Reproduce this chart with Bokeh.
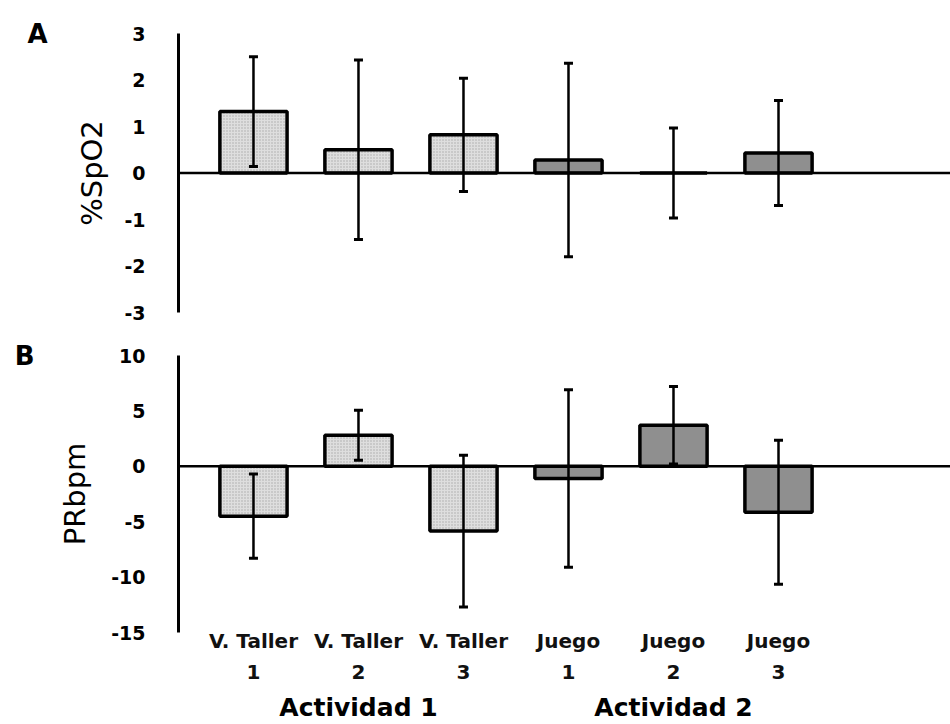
from bokeh.plotting import figure
from bokeh.models import Range1d, FixedTicker, Span, Whisker, TeeHead, ColumnDataSource, LinearAxis
from bokeh.layouts import column
from bokeh.embed import file_html
from bokeh.resources import INLINE

# ---- data ----
categories = ["V. Taller 1", "V. Taller 2", "V. Taller 3", "Juego 1", "Juego 2", "Juego 3"]
tick_labels = ["V. Taller\n1", "V. Taller\n2", "V. Taller\n3", "Juego\n1", "Juego\n2", "Juego\n3"]
activity = ["Actividad 1", "Actividad 1", "Actividad 1", "Actividad 2", "Actividad 2", "Actividad 2"]
groups = ["Actividad 1", "Actividad 2"]
group_centers = [1, 4]

spo2_mean = [1.32, 0.50, 0.82, 0.28, 0.0, 0.43]
spo2_sd = [1.18, 1.93, 1.22, 2.08, 0.97, 1.13]
pr_mean = [-4.5, 2.8, -5.85, -1.1, 3.7, -4.15]
pr_sd = [3.8, 2.25, 6.85, 8.0, 3.5, 6.5]

spo2_ticks = [-3, -2, -1, 0, 1, 2, 3]
spo2_tick_labels = ["-3", "-2", "-1", "0", "1", "2", "3"]
pr_ticks = [-15, -10, -5, 0, 5, 10]
pr_tick_labels = ["-15", "-10", "-5", "0", "5", "10"]

fill_map = {"Actividad 1": "#dedede", "Actividad 2": "#8f8f8f"}
hatch_map = {"Actividad 1": "dot", "Actividad 2": " "}

FONT = "DejaVu Sans"
idx = list(range(len(categories)))


def plain_axis(ax):
    ax.axis_line_color = None
    ax.major_tick_line_color = None
    ax.minor_tick_line_color = None
    ax.major_label_text_font = FONT
    ax.major_label_text_font_style = "bold"
    ax.major_label_text_color = "black"


def panel(means, sds, ticks, tlabels, height, btop, bbot, ylabel, lab_standoff,
          letter, letter_standoff, show_x):
    p = figure(width=950, height=height,
               x_range=Range1d(-0.714, 6.638),
               y_range=Range1d(min(ticks), max(ticks)),
               output_backend="svg", toolbar_location=None,
               min_border_left=178, min_border_right=0,
               min_border_top=btop, min_border_bottom=bbot,
               background_fill_color="white", border_fill_color="white",
               outline_line_color=None)
    p.grid.visible = False
    src = ColumnDataSource(dict(
        x=idx, top=means,
        upper=[m + s for m, s in zip(means, sds)],
        lower=[m - s for m, s in zip(means, sds)],
        fill=[fill_map[a] for a in activity],
        hatch=[hatch_map[a] for a in activity],
    ))
    p.vbar(x="x", top="top", bottom=0, width=0.64, source=src,
           fill_color="fill", line_color="black", line_width=3.5,
           hatch_pattern="hatch", hatch_color="#a9a9a9", hatch_scale=3,
           hatch_weight=1)
    p.add_layout(Span(location=0, dimension="width", line_color="black",
                      line_width=2.5))
    p.add_layout(Whisker(base="x", upper="upper", lower="lower", source=src,
                         level="overlay",
                         line_color="black", line_width=2.5,
                         upper_head=TeeHead(size=9, line_width=3, line_color="black"),
                         lower_head=TeeHead(size=9, line_width=3, line_color="black")))
    ya = p.yaxis[0]
    ya.ticker = FixedTicker(ticks=ticks)
    ya.major_label_overrides = {t: s for t, s in zip(ticks, tlabels)}
    ya.axis_line_width = 3
    ya.major_tick_line_color = None
    ya.minor_tick_line_color = None
    ya.major_label_standoff = 27
    ya.major_label_text_font = FONT
    ya.major_label_text_font_style = "bold"
    ya.major_label_text_font_size = "19px"
    ya.major_label_text_color = "black"
    ya.axis_label = ylabel
    ya.axis_label_text_font = FONT
    ya.axis_label_text_font_style = "normal"
    ya.axis_label_text_font_size = "29px"
    ya.axis_label_text_color = "black"
    ya.axis_label_standoff = lab_standoff

    # panel letter, as an outer left axis with one labelled tick at the top
    top = max(ticks)
    la = LinearAxis(ticker=FixedTicker(ticks=[top]),
                    major_label_overrides={top: letter})
    plain_axis(la)
    la.major_label_text_font_size = "26px"
    la.major_label_standoff = letter_standoff
    p.add_layout(la, "left")

    xa = p.xaxis[0]
    if show_x:
        xa.ticker = FixedTicker(ticks=idx)
        xa.major_label_overrides = {i: t for i, t in zip(idx, tick_labels)}
        plain_axis(xa)
        xa.major_label_standoff = -10
        xa.major_label_text_font_size = "20px"
        xa.major_label_text_color = "#111111"
        xa.major_label_text_line_height = 1.3
        ga = LinearAxis(ticker=FixedTicker(ticks=group_centers),
                        major_label_overrides={c: g for c, g in zip(group_centers, groups)})
        plain_axis(ga)
        ga.major_label_text_font_size = "25px"
        ga.major_label_standoff = 0
        p.add_layout(ga, "below")
    else:
        xa.visible = False
    return p


p1 = panel(spo2_mean, spo2_sd, spo2_ticks, spo2_tick_labels, 340, 33, 28,
           "%SpO2", 12, "A", 19, False)
p2 = panel(pr_mean, pr_sd, pr_ticks, pr_tick_labels, 384, 15, 92,
           "PRbpm", 16, "B", 15, True)

layout = column(p1, p2, spacing=0)
open("out.html", "w").write(file_html(layout, INLINE))
